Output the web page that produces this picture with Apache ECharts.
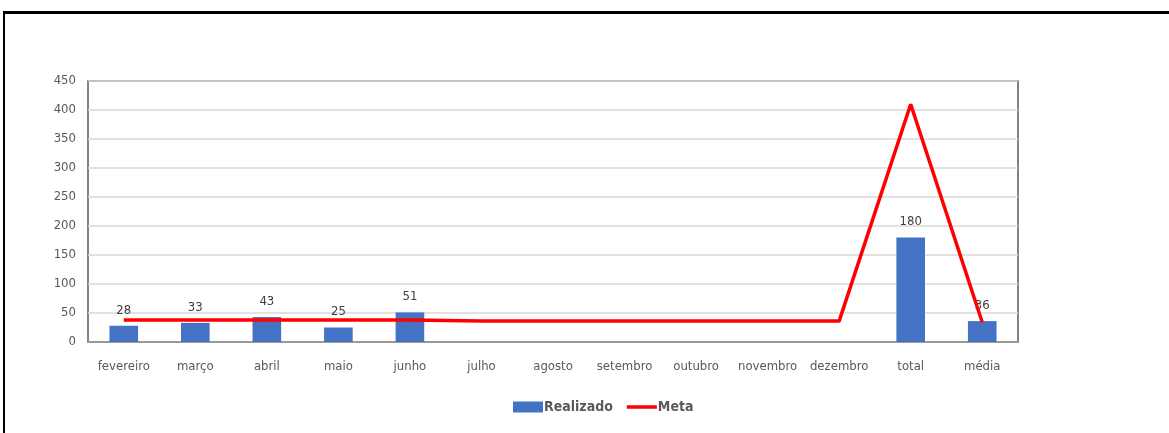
<!DOCTYPE html>
<html>
<head>
<meta charset="utf-8">
<script src="https://cdn.jsdelivr.net/npm/echarts@6/dist/echarts.min.js"></script>
<style>
html,body{margin:0;padding:0;background:#fff;}
#frame{position:absolute;left:3px;top:11px;width:1166px;height:422px;border-top:3px solid #000;border-left:2px solid #000;box-sizing:border-box;}
#chart{position:absolute;left:0;top:0;width:1169px;height:433px;}
</style>
</head>
<body>
<div id="frame"></div>
<div id="chart"></div>
<script>
var categories = ['fevereiro','março','abril','maio','junho','julho','agosto','setembro','outubro','novembro','dezembro','total','média'];
var realizado = [28, 33, 43, 25, 51, null, null, null, null, null, null, 180, 36];
var meta = [38, 38, 38, 38, 38, 36, 36, 36, 36, 36, 36, 410, 34];
var yTicks = {min: 0, max: 450, interval: 50};

var FONT = '"Liberation Sans Narrow", "DejaVu Sans Condensed", "Liberation Sans", sans-serif';
var chart = echarts.init(document.getElementById('chart'), null, {renderer: 'canvas'});
chart.setOption({
  backgroundColor: 'transparent',
  animation: false,
  textStyle: {fontFamily: FONT},
  grid: {left: 88, right: 151, top: 81, bottom: 91, show: true, borderColor: '#5a5a5a', borderWidth: 1.5, backgroundColor: 'transparent'},
  legend: {
    bottom: 14, left: 508,
    itemGap: 14, itemWidth: 30, itemHeight: 11,
    textStyle: {fontFamily: FONT, fontSize: 14, fontWeight: 'bold', color: '#595959', padding: [0,0,0,-4]},
    data: [
      {name: 'Realizado', icon: 'rect'},
      {name: 'Meta', icon: 'path://M0,0 L30,0 L30,0.01 L0,0.01 Z M0,3.8 L30,3.8 L30,7.2 L0,7.2 Z M0,10.99 L30,10.99 L30,11 L0,11 Z'}
    ]
  },
  xAxis: {
    type: 'category', data: categories,
    axisLine: {lineStyle: {color: '#8c8c8c', width: 1.5}},
    axisTick: {show: false},
    axisLabel: {color: '#595959', fontSize: 13, fontFamily: FONT, margin: 18, interval: 0}
  },
  yAxis: {
    type: 'value', min: yTicks.min, max: yTicks.max, interval: yTicks.interval,
    axisLine: {show: false}, axisTick: {show: false},
    axisLabel: {color: '#595959', fontSize: 13, fontFamily: FONT, margin: 12},
    splitLine: {lineStyle: {color: '#d9d9d9', width: 1.5}}
  },
  series: [
    {
      name: 'Realizado', type: 'bar', data: realizado, barWidth: '40%',
      itemStyle: {color: '#4472C4'},
      label: {show: true, position: 'top', distance: 9, color: '#404040', fontSize: 13, fontFamily: FONT}
    },
    {
      name: 'Meta', type: 'line', data: meta, symbol: 'none',
      lineStyle: {color: '#FF0000', width: 3.5},
      itemStyle: {color: '#FF0000'}
    }
  ]
});
</script>
</body>
</html>
